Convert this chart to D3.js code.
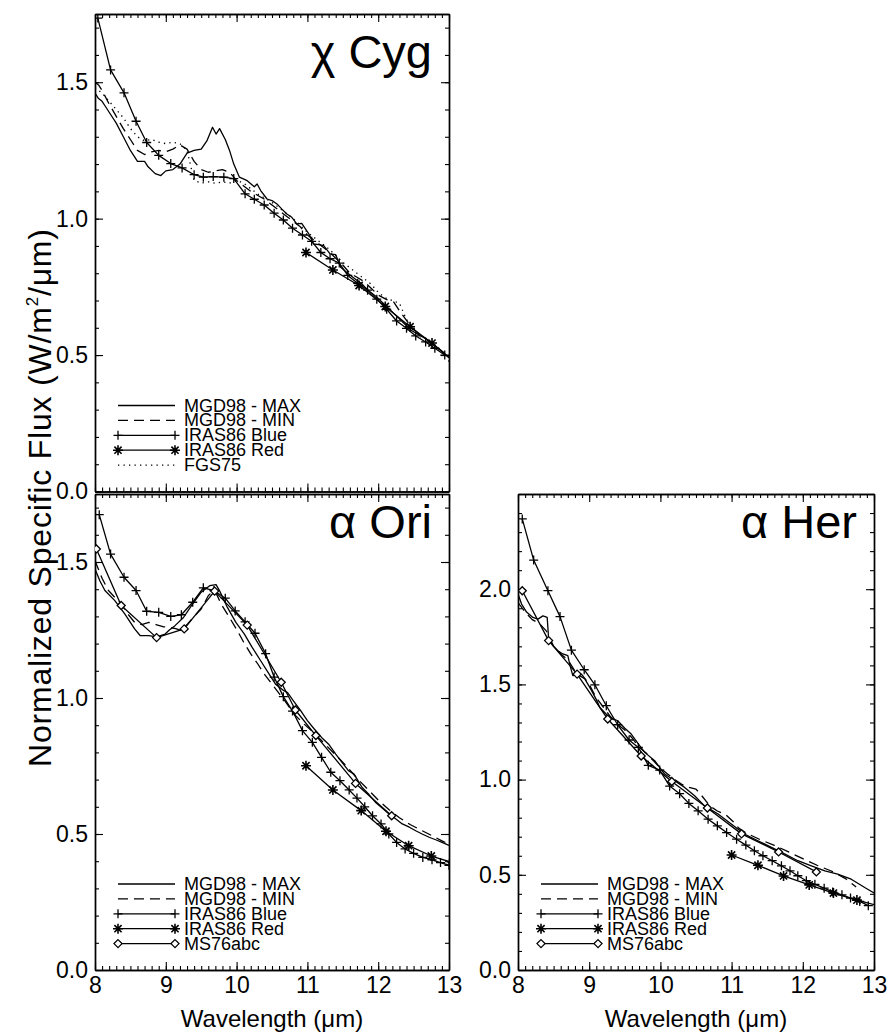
<!DOCTYPE html>
<html>
<head>
<meta charset="utf-8">
<script src="https://cdn.jsdelivr.net/npm/d3@7"></script>
<style>
  body { margin: 0; background: #fff; }
  svg { display: block; font-family: "Liberation Sans", Arial, Helvetica, sans-serif; }
</style>
</head>
<body>
<div id="chart"></div>
<script>
// ---- data: [wavelength (um), normalized flux] ----

// chi Cyg
const cygMax = [[8.00,1.46],[8.05,1.44],[8.10,1.43],[8.15,1.41],[8.20,1.39],[8.30,1.35],[8.40,1.30],[8.50,1.25],[8.60,1.21],
  [8.70,1.21],[8.75,1.19],[8.85,1.165],[8.93,1.158],[9.00,1.175],[9.10,1.18],[9.20,1.20],[9.30,1.24],[9.40,1.25],[9.50,1.255],
  [9.58,1.285],[9.66,1.335],[9.71,1.31],[9.76,1.33],[9.84,1.29],[9.90,1.25],[9.96,1.20],[10.04,1.152],[10.15,1.139],[10.25,1.117],
  [10.29,1.127],[10.34,1.103],[10.43,1.072],[10.51,1.065],[10.57,1.054],[10.64,1.035],[10.71,1.017],[10.78,1.005],[10.85,0.981],
  [10.92,0.983],[11.02,0.944],[11.09,0.907],[11.16,0.905],[11.23,0.901],[11.32,0.871],[11.40,0.868],[11.47,0.822],[11.57,0.80],
  [11.67,0.78],[11.77,0.76],[11.87,0.735],[11.97,0.715],[12.07,0.69],[12.17,0.665],[12.27,0.64],[12.37,0.615],[12.47,0.59],
  [12.57,0.575],[12.67,0.56],[12.77,0.54],[12.87,0.52],[13.00,0.49]];
const cygMin = [[8.00,1.50],[8.05,1.49],[8.10,1.47],[8.20,1.42],[8.30,1.375],[8.40,1.33],[8.50,1.29],[8.60,1.25],[8.70,1.235],
  [8.80,1.245],[8.90,1.25],[9.00,1.245],[9.10,1.255],[9.20,1.27],[9.30,1.255],[9.40,1.21],[9.50,1.18],[9.60,1.17],[9.70,1.175],
  [9.80,1.18],[9.90,1.17],[10.00,1.14],[10.10,1.12],[10.20,1.10],[10.30,1.085],[10.40,1.07],[10.50,1.05],[10.60,1.03],[10.70,1.01],
  [10.80,0.99],[10.90,0.97],[11.00,0.94],[11.10,0.92],[11.20,0.90],[11.30,0.88],[11.40,0.855],[11.50,0.83],[11.60,0.80],
  [11.70,0.785],[11.80,0.77],[11.90,0.745],[12.00,0.72],[12.12,0.703],[12.22,0.694],[12.32,0.655],[12.42,0.62],[12.52,0.59],
  [12.62,0.57],[12.72,0.55],[12.82,0.53],[12.92,0.51],[13.00,0.49]];
const cygBlue = [[8.04,1.735],[8.22,1.545],[8.41,1.461],[8.58,1.357],[8.73,1.279],[8.90,1.232],[9.07,1.202],[9.23,1.186],
  [9.40,1.161],[9.53,1.152],[9.67,1.154],[9.82,1.152],[9.96,1.147],[10.12,1.091],[10.25,1.071],[10.39,1.050],[10.53,1.020],
  [10.66,0.995],[10.79,0.965],[10.93,0.940],[11.06,0.917],[11.19,0.876],[11.32,0.853],[11.45,0.837],[11.57,0.792],[11.71,0.763],
  [11.85,0.738],[11.98,0.705],[12.12,0.668],[12.26,0.625],[12.40,0.598],[12.53,0.570],[12.67,0.548],[12.80,0.525],[12.94,0.500]];
const cygRed = [[10.98,0.876],[11.36,0.812],[11.73,0.755],[12.10,0.678],[12.45,0.604],[12.76,0.544],[13.06,0.478]];
const cygFgs = [[8.00,1.48],[8.10,1.46],[8.20,1.43],[8.30,1.40],[8.40,1.37],[8.50,1.33],[8.60,1.30],[8.70,1.285],[8.80,1.29],
  [8.90,1.28],[9.00,1.275],[9.10,1.28],[9.20,1.275],[9.30,1.25],[9.40,1.14],[9.50,1.13],[9.60,1.135],[9.70,1.13],[9.80,1.135],
  [9.90,1.13],[10.00,1.14],[10.10,1.13],[10.20,1.11],[10.30,1.09],[10.40,1.075],[10.50,1.06],[10.60,1.04],[10.70,1.02],
  [10.80,1.00],[10.90,0.975],[11.00,0.95],[11.10,0.93],[11.20,0.91],[11.30,0.89],[11.40,0.865],[11.50,0.84],[11.60,0.82],
  [11.70,0.80],[11.80,0.78],[11.90,0.76],[12.00,0.73],[12.10,0.71],[12.20,0.70],[12.30,0.69],[12.40,0.63],[12.50,0.60],[12.60,0.565]];

// alpha Ori
const oriMax = [[8.00,1.474],[8.07,1.43],[8.14,1.395],[8.28,1.358],[8.42,1.309],[8.56,1.254],[8.64,1.229],[8.76,1.229],
  [8.87,1.225],[8.99,1.235],[9.05,1.25],[9.13,1.266],[9.25,1.296],[9.36,1.339],[9.50,1.389],[9.62,1.413],[9.71,1.417],
  [9.76,1.394],[9.87,1.333],[9.99,1.278],[10.11,1.235],[10.22,1.186],[10.34,1.137],[10.46,1.088],[10.55,1.051],[10.65,1.03],
  [10.72,1.02],[10.80,0.99],[10.90,0.955],[11.00,0.917],[11.10,0.885],[11.20,0.855],[11.30,0.83],[11.40,0.794],[11.50,0.76],
  [11.58,0.733],[11.66,0.72],[11.77,0.672],[11.87,0.645],[11.96,0.617],[12.06,0.595],[12.15,0.574],[12.25,0.555],[12.34,0.537],
  [12.44,0.525],[12.53,0.512],[12.62,0.500],[12.72,0.488],[12.82,0.478],[12.91,0.468],[13.00,0.458]];
const oriMin = [[8.00,1.505],[8.10,1.44],[8.19,1.395],[8.28,1.37],[8.37,1.346],[8.46,1.31],[8.56,1.278],[8.66,1.27],[8.76,1.278],
  [8.86,1.27],[8.96,1.262],[9.04,1.26],[9.14,1.255],[9.22,1.248],[9.30,1.27],[9.40,1.30],[9.50,1.327],[9.60,1.376],[9.67,1.394],
  [9.72,1.38],[9.78,1.346],[9.89,1.30],[10.01,1.248],[10.10,1.205],[10.20,1.162],[10.30,1.125],[10.39,1.088],[10.48,1.058],
  [10.57,1.027],[10.68,0.99],[10.81,0.941],[10.95,0.905],[11.10,0.87],[11.25,0.83],[11.40,0.79],[11.55,0.75],[11.70,0.705],
  [11.85,0.665],[12.00,0.625],[12.15,0.59],[12.30,0.56],[12.45,0.535],[12.60,0.515],[12.75,0.495],[12.90,0.475],[13.00,0.462]];
const oriBlue = [[8.06,1.674],[8.22,1.529],[8.41,1.444],[8.58,1.395],[8.73,1.319],[8.90,1.315],[9.07,1.300],[9.22,1.306],
  [9.38,1.352],[9.53,1.405],[9.68,1.395],[9.84,1.367],[9.98,1.32],[10.12,1.280],[10.26,1.238],[10.41,1.163],[10.53,1.077],
  [10.66,1.005],[10.79,0.952],[10.93,0.880],[11.07,0.837],[11.20,0.782],[11.33,0.727],[11.46,0.696],[11.59,0.662],[11.70,0.632],
  [11.81,0.600],[11.92,0.567],[12.04,0.537],[12.15,0.50],[12.26,0.469],[12.38,0.445],[12.50,0.429],[12.63,0.414],[12.76,0.405],
  [12.88,0.395],[13.00,0.385]];
const oriRed = [[10.98,0.751],[11.36,0.662],[11.76,0.586],[12.11,0.510],[12.43,0.457],[12.75,0.419],[13.05,0.395]];
const oriMs = [[8.02,1.548],[8.37,1.340],[8.87,1.222],[9.26,1.254],[9.69,1.393],[10.15,1.268],[10.63,1.058],[10.83,0.956],
  [11.12,0.862],[11.68,0.686],[12.19,0.567]];

// alpha Her
const herMax = [[8.00,1.975],[8.05,1.922],[8.12,1.88],[8.21,1.852],[8.28,1.843],[8.35,1.86],[8.41,1.852],[8.43,1.74],
  [8.50,1.70],[8.56,1.677],[8.63,1.66],[8.70,1.651],[8.73,1.60],[8.77,1.546],[8.85,1.55],[8.94,1.528],[9.03,1.47],
  [9.10,1.42],[9.15,1.379],[9.26,1.335],[9.33,1.32],[9.40,1.309],[9.50,1.27],[9.59,1.239],[9.69,1.187],[9.78,1.143],
  [9.92,1.099],[10.06,1.029],[10.20,0.994],[10.34,0.959],[10.48,0.915],[10.62,0.862],[10.81,0.819],[11.00,0.766],
  [11.18,0.714],[11.37,0.679],[11.56,0.644],[11.75,0.609],[11.93,0.574],[12.12,0.547],[12.31,0.521],[12.49,0.504],
  [12.68,0.477],[12.87,0.433],[13.00,0.405]];
const herMin = [[8.00,1.93],[8.10,1.88],[8.20,1.84],[8.30,1.82],[8.40,1.78],[8.50,1.70],[8.60,1.66],[8.70,1.63],[8.80,1.57],
  [8.90,1.55],[9.00,1.50],[9.10,1.43],[9.20,1.38],[9.30,1.33],[9.40,1.29],[9.50,1.26],[9.60,1.22],[9.70,1.17],[9.80,1.14],
  [9.90,1.10],[10.00,1.06],[10.10,1.03],[10.20,1.00],[10.30,0.975],[10.40,0.96],[10.50,0.95],[10.57,0.92],[10.70,0.86],
  [10.80,0.835],[10.92,0.815],[11.02,0.78],[11.10,0.745],[11.20,0.72],[11.40,0.685],[11.60,0.655],[11.80,0.62],[12.00,0.585],
  [12.20,0.55],[12.40,0.52],[12.60,0.48],[12.75,0.436]];
const herBlue = [[8.06,2.369],[8.22,2.153],[8.42,1.992],[8.59,1.856],[8.75,1.680],[8.93,1.577],[9.08,1.498],[9.24,1.388],
  [9.40,1.288],[9.56,1.208],[9.69,1.169],[9.83,1.075],[9.99,1.050],[10.13,0.966],[10.27,0.926],[10.40,0.875],[10.53,0.836],
  [10.67,0.792],[10.80,0.757],[10.93,0.722],[11.07,0.687],[11.20,0.656],[11.32,0.626],[11.44,0.600],[11.57,0.574],[11.70,0.547],
  [11.82,0.521],[11.93,0.495],[12.05,0.469],[12.17,0.450],[12.30,0.430],[12.42,0.410],[12.55,0.395],[12.67,0.378],[12.80,0.360],
  [12.92,0.338]];
const herRed = [[11.00,0.604],[11.37,0.550],[11.73,0.494],[12.09,0.447],[12.43,0.404],[12.76,0.367],[13.08,0.335]];
const herMs = [[8.06,1.992],[8.43,1.730],[8.83,1.554],[9.26,1.318],[9.73,1.124],[10.16,0.990],[10.66,0.851],[11.14,0.715],
  [11.66,0.620],[12.19,0.515]];

const starNames = ['\u03c7 Cyg', '\u03b1 Ori', '\u03b1 Her'];
const legendCyg = ['MGD98 - MAX', 'MGD98 - MIN', 'IRAS86 Blue', 'IRAS86 Red', 'FGS75'];
const legendStd = ['MGD98 - MAX', 'MGD98 - MIN', 'IRAS86 Blue', 'IRAS86 Red', 'MS76abc'];
const xDomain = [8, 13];
const xMajor = [8, 9, 10, 11, 12, 13];
const yMajorLow = [0, 0.5, 1.0, 1.5];
const yMajorHer = [0, 0.5, 1.0, 1.5, 2.0];

// ---- layout ----
const W = 890, H = 1032;
const FONT = '"Liberation Sans", Arial, Helvetica, sans-serif';

const svg = d3.select('#chart').append('svg')
  .attr('width', W).attr('height', H);

// line styles and symbols (IDL-ish)
const DASH = { solid: null, dashed: '10,6', dotted: '1.3,4.2' };
const SYM = {
  plus: 'M-4.5,0H4.5M0,-4.5V4.5',
  star: 'M-5,0H5M0,-5V5M-3.6,-3.6L3.6,3.6M-3.6,3.6L3.6,-3.6',
  diamond: 'M0,-4L4,0L0,4L-4,0Z'
};

const panels = [
  { id: 'cyg', left: 95, right: 449, top: 14, bottom: 491.5, yMax: 1.75, yMajor: yMajorLow, xLabels: false,
    name: starNames[0], nameDy: 54, legend: legendCyg,
    series: [
      { data: cygMax, dash: 'solid', sym: null },
      { data: cygMin, dash: 'dashed', sym: null },
      { data: cygBlue, dash: 'solid', sym: 'plus' },
      { data: cygRed, dash: 'solid', sym: 'star' },
      { data: cygFgs, dash: 'dotted', sym: null }
    ] },
  { id: 'ori', left: 95, right: 449, top: 494, bottom: 970, yMax: 1.75, yMajor: yMajorLow, xLabels: true,
    name: starNames[1], nameDy: 44, legend: legendStd,
    series: [
      { data: oriMax, dash: 'solid', sym: null },
      { data: oriMin, dash: 'dashed', sym: null },
      { data: oriBlue, dash: 'solid', sym: 'plus' },
      { data: oriRed, dash: 'solid', sym: 'star' },
      { data: oriMs, dash: 'solid', sym: 'diamond' }
    ] },
  { id: 'her', left: 518, right: 874, top: 494, bottom: 970, yMax: 2.5, yMajor: yMajorHer, xLabels: true,
    name: starNames[2], nameDy: 44, legend: legendStd,
    series: [
      { data: herMax, dash: 'solid', sym: null },
      { data: herMin, dash: 'dashed', sym: null },
      { data: herBlue, dash: 'solid', sym: 'plus' },
      { data: herRed, dash: 'solid', sym: 'star' },
      { data: herMs, dash: 'solid', sym: 'diamond' }
    ] }
];

function styleAxis(g) {
  g.attr('font-family', FONT).attr('font-size', 23);
  g.selectAll('path.domain').attr('stroke', '#000').attr('stroke-width', 1.4);
  g.selectAll('line').attr('stroke', '#000').attr('stroke-width', 1.1);
  g.selectAll('text').attr('fill', '#000');
}

panels.forEach(p => {
  const x = d3.scaleLinear().domain(xDomain).range([p.left, p.right]);
  const y = d3.scaleLinear().domain([0, p.yMax]).range([p.bottom, p.top]);
  const minorX = d3.range(80, 131).map(d => d / 10);
  const minorY = d3.range(0, Math.floor(p.yMax * 10 + 1e-6) + 1).map(d => d / 10);

  const g = svg.append('g').attr('class', 'panel-' + p.id);

  // clip for the curves
  g.append('clipPath').attr('id', 'clip-' + p.id)
    .append('rect')
    .attr('x', p.left).attr('y', p.top)
    .attr('width', p.right - p.left).attr('height', p.bottom - p.top);

  // minor ticks (pointing inward)
  g.append('g').attr('transform', `translate(0,${p.bottom})`)
    .call(d3.axisBottom(x).tickValues(minorX).tickSizeInner(-4).tickSizeOuter(0).tickFormat(''))
    .call(styleAxis);
  g.append('g').attr('transform', `translate(0,${p.top})`)
    .call(d3.axisTop(x).tickValues(minorX).tickSizeInner(-4).tickSizeOuter(0).tickFormat(''))
    .call(styleAxis);
  g.append('g').attr('transform', `translate(${p.left},0)`)
    .call(d3.axisLeft(y).tickValues(minorY).tickSizeInner(-4).tickSizeOuter(0).tickFormat(''))
    .call(styleAxis);
  g.append('g').attr('transform', `translate(${p.right},0)`)
    .call(d3.axisRight(y).tickValues(minorY).tickSizeInner(-4).tickSizeOuter(0).tickFormat(''))
    .call(styleAxis);

  // major ticks
  g.append('g').attr('transform', `translate(0,${p.bottom})`)
    .call(d3.axisBottom(x).tickValues(xMajor).tickSizeInner(-8).tickSizeOuter(0).tickPadding(7)
      .tickFormat(p.xLabels ? d3.format('d') : ''))
    .call(styleAxis);
  g.append('g').attr('transform', `translate(0,${p.top})`)
    .call(d3.axisTop(x).tickValues(xMajor).tickSizeInner(-8).tickSizeOuter(0).tickFormat(''))
    .call(styleAxis);
  g.append('g').attr('transform', `translate(${p.left},0)`)
    .call(d3.axisLeft(y).tickValues(p.yMajor).tickSizeInner(-8).tickSizeOuter(0).tickPadding(7)
      .tickFormat(d3.format('.1f')))
    .call(styleAxis);
  g.append('g').attr('transform', `translate(${p.right},0)`)
    .call(d3.axisRight(y).tickValues(p.yMajor).tickSizeInner(-8).tickSizeOuter(0).tickFormat(''))
    .call(styleAxis);

  // curves
  const line = d3.line().x(d => x(d[0])).y(d => y(d[1]));
  const curves = g.append('g').attr('clip-path', `url(#clip-${p.id})`);
  p.series.forEach(s => {
    curves.append('path')
      .datum(s.data)
      .attr('d', line)
      .attr('fill', 'none')
      .attr('stroke', '#000')
      .attr('stroke-width', 1.3)
      .attr('stroke-linejoin', 'round')
      .attr('stroke-dasharray', DASH[s.dash]);
    if (s.sym) {
      curves.selectAll(null)
        .data(s.data)
        .enter()
        .append('path')
        .attr('transform', d => `translate(${x(d[0])},${y(d[1])})`)
        .attr('d', SYM[s.sym])
        .attr('fill', s.sym === 'diamond' ? '#fff' : 'none')
        .attr('stroke', '#000')
        .attr('stroke-width', s.sym === 'star' ? 1.6 : 1.3);
    }
  });

  // star name
  g.append('text')
    .attr('x', p.right - 17)
    .attr('y', p.top + p.nameDy)
    .attr('text-anchor', 'end')
    .attr('font-family', FONT)
    .attr('font-size', 47)
    .text(p.name);

  // legend
  const lx0 = p.left + 23, lx1 = p.left + 80, ltx = p.left + 89;
  const ly0 = p.bottom - 86, lstep = 14.9;
  const lg = g.append('g').attr('class', 'legend');
  p.legend.forEach((label, i) => {
    const s = p.series[i];
    const ly = ly0 + i * lstep;
    lg.append('line')
      .attr('x1', lx0).attr('x2', lx1).attr('y1', ly).attr('y2', ly)
      .attr('stroke', '#000').attr('stroke-width', 1.3)
      .attr('stroke-dasharray', DASH[s.dash]);
    if (s.sym) {
      [lx0, lx1].forEach(px => {
        lg.append('path')
          .attr('transform', `translate(${px},${ly})`)
          .attr('d', SYM[s.sym])
          .attr('fill', s.sym === 'diamond' ? '#fff' : 'none')
          .attr('stroke', '#000')
          .attr('stroke-width', s.sym === 'star' ? 1.6 : 1.3);
      });
    }
    lg.append('text')
      .attr('x', ltx).attr('y', ly + 6)
      .attr('font-family', FONT).attr('font-size', 18)
      .text(label);
  });

  // x axis title
  if (p.xLabels) {
    g.append('text')
      .attr('x', (p.left + p.right) / 2)
      .attr('y', 1027)
      .attr('text-anchor', 'middle')
      .attr('font-family', FONT)
      .attr('font-size', 24)
      .text('Wavelength (\u03bcm)');
  }
});

// y axis title
const yt = svg.append('text')
  .attr('transform', 'translate(51,498) rotate(-90)')
  .attr('text-anchor', 'middle')
  .attr('font-family', FONT)
  .attr('font-size', 32)
  .attr('textLength', 538)
  .attr('lengthAdjust', 'spacing');
yt.append('tspan').text('Normalized Specific Flux (W/m');
yt.append('tspan').attr('font-size', 17).attr('dy', -13).text('2');
yt.append('tspan').attr('dy', 13).text('/\u03bcm)');
</script>
</body>
</html>
